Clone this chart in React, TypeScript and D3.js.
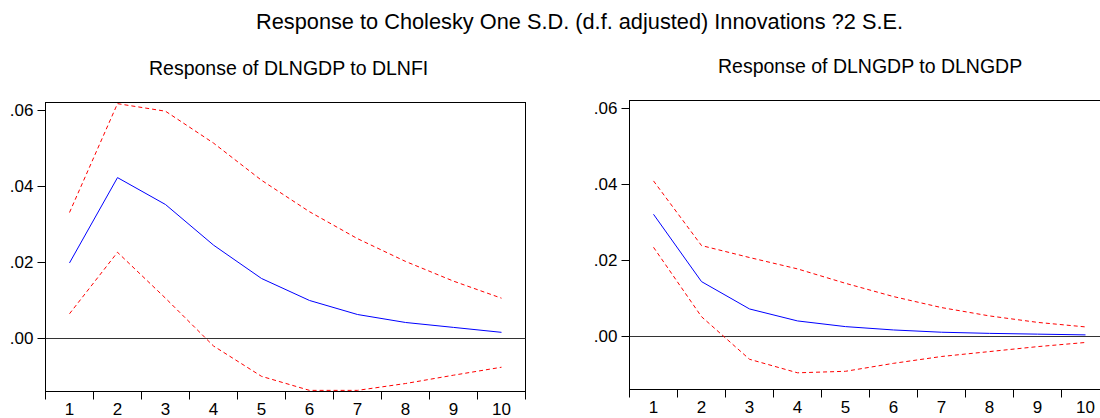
import React from "react";
import * as d3 from "d3";

const periods = [1, 2, 3, 4, 5, 6, 7, 8, 9, 10];
const yTicks = [0, 0.02, 0.04, 0.06];

const mainTitle = "Response to Cholesky One S.D. (d.f. adjusted) Innovations ?2 S.E.";

const fiTitle = "Response of DLNGDP to DLNFI";
const fiResponse = [0.0197, 0.0422, 0.0351, 0.0244, 0.0156, 0.0098, 0.0061, 0.004, 0.0027, 0.0014];
const fiUpper = [0.033, 0.0617, 0.0597, 0.0513, 0.0415, 0.0332, 0.0261, 0.0201, 0.0149, 0.0104];
const fiLower = [0.0063, 0.0225, 0.0104, -0.0022, -0.0102, -0.0139, -0.0139, -0.0121, -0.0099, -0.0078];

const gdpTitle = "Response of DLNGDP to DLNGDP";
const gdpResponse = [0.032, 0.01425, 0.00704, 0.00388, 0.00238, 0.0015, 0.0009, 0.0006, 0.0004, 0.0002];
const gdpUpper = [0.0408, 0.02375, 0.0206, 0.0176, 0.0138, 0.0103, 0.0074, 0.0052, 0.0035, 0.0023];
const gdpLower = [0.0233, 0.005, -0.00623, -0.0098, -0.0094, -0.0073, -0.0055, -0.0042, -0.0029, -0.0018];

const FONT = "'Liberation Sans', Arial, sans-serif";

type PanelProps = {
  left: number;
  top: number;
  width: number;
  height: number;
  title: string;
  titleX: number;
  titleY: number;
  response: number[];
  upper: number[];
  lower: number[];
};

function Panel({ left, top, width, height, title, titleX, titleY, response, upper, lower }: PanelProps) {
  const x = d3.scaleBand<number>().domain(periods).range([left, left + width]).padding(0);
  const y = d3.scaleLinear().domain([-0.0142, 0.062]).range([top + height, top]);
  const cx = (p: number) => (x(p) as number) + x.bandwidth() / 2;
  const line = d3
    .line<number>()
    .x((_, i) => cx(periods[i]))
    .y((v) => y(v));
  const boundaries = periods.map((p) => x(p) as number).concat([left + width]);
  const fmt = (v: number) => d3.format(".2f")(v).replace(/^0/, "");
  return (
    <g>
      <text x={titleX} y={titleY} fontSize={19.5} fontFamily={FONT} fill="#000">
        {title}
      </text>
      <rect x={left} y={top} width={width} height={height} fill="none" stroke="#000" strokeWidth={1} />
      <line x1={left} x2={left + width} y1={Math.round(y(0)) + 0.5} y2={Math.round(y(0)) + 0.5} stroke="#333" strokeWidth={1} />
      {yTicks.map((t) => (
        <g key={t}>
          <line x1={left - 8} x2={left} y1={Math.round(y(t)) + 0.5} y2={Math.round(y(t)) + 0.5} stroke="#000" />
          <text x={left - 12} y={y(t) + 6} fontSize={17} fontFamily={FONT} textAnchor="end" fill="#000">
            {fmt(t)}
          </text>
        </g>
      ))}
      {boundaries.map((b, i) => (
        <line key={i} x1={b} x2={b} y1={top + height} y2={top + height + 8} stroke="#000" />
      ))}
      {periods.map((p) => (
        <text key={p} x={cx(p)} y={top + height + 23} fontSize={17} fontFamily={FONT} textAnchor="middle" fill="#000">
          {p}
        </text>
      ))}
      <path d={line(upper) || ""} fill="none" stroke="#ff0000" strokeWidth={1} strokeDasharray="4,3" />
      <path d={line(lower) || ""} fill="none" stroke="#ff0000" strokeWidth={1} strokeDasharray="4,3" />
      <path d={line(response) || ""} fill="none" stroke="#0000ff" strokeWidth={1} />
    </g>
  );
}

export default function App() {
  return (
    <div style={{ position: "fixed", left: 0, top: 0 }}>
      <svg width={1100} height={418} style={{ display: "block", background: "#fff" }}>
        <rect x={0} y={0} width={1100} height={418} fill="#fff" />
        <text
          x={256}
          y={29}
          fontSize={22.5}
          fontFamily={FONT}
          textLength={647}
          lengthAdjust="spacingAndGlyphs"
          fill="#000"
        >
          {mainTitle}
        </text>
        <Panel
          left={45.5}
          top={102.5}
          width={480}
          height={289}
          title={fiTitle}
          titleX={149}
          titleY={75}
          response={fiResponse}
          upper={fiUpper}
          lower={fiLower}
        />
        <Panel
          left={629.5}
          top={100.5}
          width={480}
          height={289}
          title={gdpTitle}
          titleX={718}
          titleY={73}
          response={gdpResponse}
          upper={gdpUpper}
          lower={gdpLower}
        />
      </svg>
    </div>
  );
}
